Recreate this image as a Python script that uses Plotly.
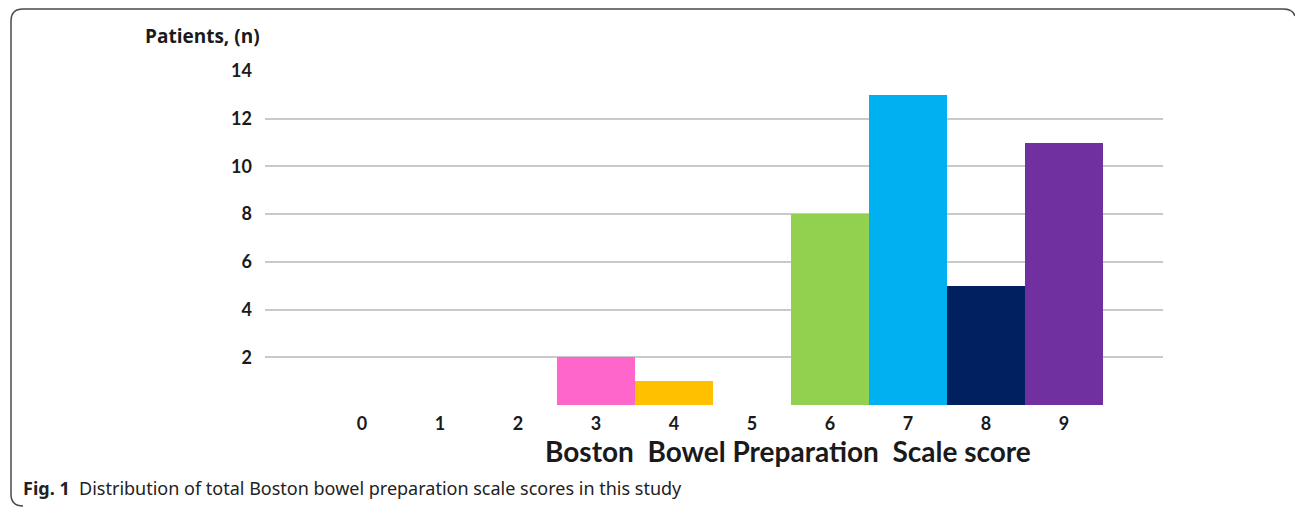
import plotly.graph_objects as go

# ---- data ----
scores = [0, 1, 2, 3, 4, 5, 6, 7, 8, 9]
patients = [0, 0, 0, 2, 1, 0, 8, 13, 5, 11]
bar_colors = ["#FF66CC", "#FF66CC", "#FF66CC", "#FF66CC", "#FFC000",
              "#FFC000", "#92D050", "#00B0F0", "#002060", "#7030A0"]
y_ticks = [2, 4, 6, 8, 10, 12, 14]
y_title = "Patients, (n)"
x_title = "Boston  Bowel Preparation  Scale score"
caption_bold = "Fig. 1"
caption_text = "Distribution of total Boston bowel preparation scale scores in this study"

W, H = 1295, 508


def px(x):
    return x / W


def py(y):
    return 1 - y / H


fig = go.Figure()
fig.add_trace(go.Bar(
    x=scores, y=patients, width=1.0,
    marker=dict(color=bar_colors, line=dict(width=0)),
    showlegend=False, hoverinfo="x+y",
))

tick_font = dict(family="Lato, Open Sans, sans-serif", size=18, color="#1a1a1a", weight="bold")

fig.update_layout(
    width=W, height=H, autosize=False,
    margin=dict(l=0, r=0, t=0, b=0, pad=0, autoexpand=False),
    paper_bgcolor="white", plot_bgcolor="white",
    bargap=0,
    font=dict(family="Lato, sans-serif"),
    xaxis=dict(
        domain=[px(265), px(1163)],
        range=[-1.244, 10.27],
        tickmode="array", tickvals=scores, ticktext=[str(s) for s in scores],
        tickfont=tick_font, showgrid=False, zeroline=False, showline=False,
        ticks="", ticklabelstandoff=6, automargin=False,
    ),
    yaxis=dict(
        domain=[py(405), py(71)],
        range=[0, 14],
        tickmode="array", tickvals=y_ticks,
        tickfont=tick_font, showgrid=True, gridcolor="#c9c9c9", gridwidth=1.5,
        zeroline=False, showline=False, ticks="", ticklabelstandoff=12,
        automargin=False,
    ),
)

fig.add_annotation(
    text="<b>" + y_title + "</b>", xref="paper", yref="paper",
    x=px(202), y=py(36), xanchor="center", yanchor="middle", showarrow=False,
    font=dict(family="Open Sans, sans-serif", size=19, color="#1a1a1a"),
)
fig.add_annotation(
    text="<b>" + x_title + "</b>", xref="paper", yref="paper",
    x=px(788), y=py(451), xanchor="center", yanchor="middle", showarrow=False,
    font=dict(family="Lato, sans-serif", size=28, color="#1a1a1a"),
)
fig.add_annotation(
    text="<b>" + caption_bold + "</b>  " + caption_text, xref="paper", yref="paper",
    x=px(21), y=py(488), xanchor="left", yanchor="middle", showarrow=False,
    font=dict(family="Noto Sans, Open Sans, sans-serif", size=18, color="#222222"),
)

# frame (rounded border, top and left)
pts = [(23, 506), (11, 506), (11, 494), (11, 21), (11, 9), (23, 9), (1283, 9), (1293, 9), (1295, 16)]
path = (f"M {px(pts[0][0])},{py(pts[0][1])} "
        f"Q {px(pts[1][0])},{py(pts[1][1])} {px(pts[2][0])},{py(pts[2][1])} "
        f"L {px(pts[3][0])},{py(pts[3][1])} "
        f"Q {px(pts[4][0])},{py(pts[4][1])} {px(pts[5][0])},{py(pts[5][1])} "
        f"L {px(pts[6][0])},{py(pts[6][1])} "
        f"Q {px(pts[7][0])},{py(pts[7][1])} {px(pts[8][0])},{py(pts[8][1])}")
fig.add_shape(type="path", path=path, xref="paper", yref="paper",
              line=dict(color="#4a4a4a", width=1.5))

fig.write_html("out.html", config={"displayModeBar": False},
               post_script="document.body.style.margin='0';document.body.style.overflow='hidden';")
